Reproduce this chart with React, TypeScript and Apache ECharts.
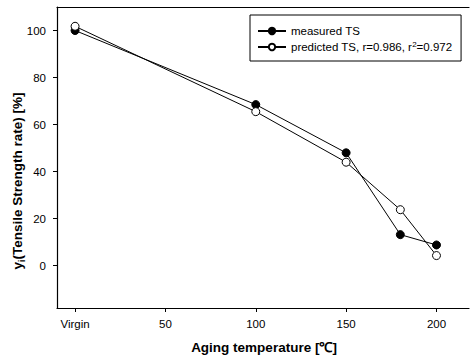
import React, { useEffect, useRef } from "react";
import * as echarts from "echarts";

const temperatures = [0, 100, 150, 180, 200];
const measuredTS = [100, 68.5, 48, 13.2, 8.8];
const predictedTS = [101.8, 65.5, 44, 23.8, 4.3];
const xTicks = [0, 50, 100, 150, 200];
const yTicks = [0, 20, 40, 60, 80, 100];
const seriesNames = ["measured TS", "predicted TS, r=0.986, r\u00b2=0.972"];

const FONT = "Liberation Sans, Arial, sans-serif";

export default function App() {
  const ref = useRef<HTMLDivElement>(null);
  useEffect(() => {
    if (!ref.current) return;
    const chart = echarts.init(ref.current, undefined, { renderer: "svg" });
    const axisLine = { show: true, onZero: false, lineStyle: { color: "#000", width: 1.2 } };
    chart.setOption({
      animation: false,
      backgroundColor: "#fff",
      grid: { left: 57, right: 1, top: 7, bottom: 50 },
      xAxis: [
        {
          type: "value",
          min: -10,
          max: 218,
          axisLine,
          axisTick: { show: true, length: 4, inside: false, customValues: xTicks, lineStyle: { color: "#000" } },
          axisLabel: {
            customValues: xTicks,
            margin: 10,
            fontSize: 11.5,
            fontFamily: FONT,
            color: "#000",
            formatter: (v: number) => (v === 0 ? "Virgin" : String(v)),
          },
          splitLine: { show: false },
        },
        {
          type: "value",
          position: "top",
          min: -10,
          max: 218,
          axisLine,
          axisTick: { show: false },
          axisLabel: { show: false },
          splitLine: { show: false },
        },
      ],
      yAxis: {
        type: "value",
        min: -18,
        max: 110,
        axisLine,
        axisTick: { show: true, length: 4, customValues: yTicks, lineStyle: { color: "#000" } },
        axisLabel: { customValues: yTicks, margin: 11, fontSize: 11.5, fontFamily: FONT, color: "#000" },
        splitLine: { show: false },
      },
      legend: {
        orient: "vertical",
        left: 250,
        top: 15,
        data: seriesNames,
        borderColor: "#000",
        borderWidth: 1,
        padding: [10, 9, 8, 7],
        itemGap: 3,
        itemWidth: 28,
        itemHeight: 8,
        formatter: (name: string) =>
          name === seriesNames[1] ? "{t|predicted TS, r=0.986, r}{s|2}{t|=0.972}" : "{t|" + name + "}",
        textStyle: {
          fontSize: 11.5,
          fontFamily: FONT,
          color: "#000",
          rich: {
            t: { fontSize: 11.5, fontFamily: FONT, color: "#000", lineHeight: 14 },
            s: { fontSize: 8, fontFamily: FONT, color: "#000", lineHeight: 8, verticalAlign: "top" },
          },
        },
      },
      graphic: [
        {
          type: "text",
          x: 264,
          y: 347,
          style: {
            text: "Aging temperature [\u2103]",
            fontSize: 13.5,
            fontWeight: "bold",
            fontFamily: FONT,
            fill: "#000",
            align: "center",
            verticalAlign: "middle",
          },
        },
        {
          type: "text",
          x: 17,
          y: 181,
          rotation: Math.PI / 2,
          style: {
            text: "{a|y}{b|i}{a|(Tensile Strength rate) [%]}",
            align: "center",
            verticalAlign: "middle",
            fill: "#000",
            rich: {
              a: { fontSize: 13.5, fontWeight: "bold", fontFamily: FONT, fill: "#000", lineHeight: 18 },
              b: { fontSize: 9, fontWeight: "bold", fontFamily: FONT, fill: "#000", lineHeight: 9, verticalAlign: "bottom" },
            },
          },
        },
      ],
      series: [
        {
          name: seriesNames[0],
          type: "line",
          data: temperatures.map((t, i) => [t, measuredTS[i]]),
          symbol: "circle",
          symbolSize: 8,
          itemStyle: { color: "#000", borderColor: "#000", borderWidth: 1 },
          lineStyle: { color: "#000", width: 1 },
          z: 2,
        },
        {
          name: seriesNames[1],
          type: "line",
          data: temperatures.map((t, i) => [t, predictedTS[i]]),
          symbol: "circle",
          symbolSize: 8,
          itemStyle: { color: "#fff", borderColor: "#000", borderWidth: 1 },
          lineStyle: { color: "#000", width: 1 },
          z: 3,
        },
      ],
    });
    return () => chart.dispose();
  }, []);
  return (
    <div
      ref={ref}
      style={{ position: "absolute", left: 0, top: 0, width: 470, height: 358, background: "#fff" }}
    />
  );
}
